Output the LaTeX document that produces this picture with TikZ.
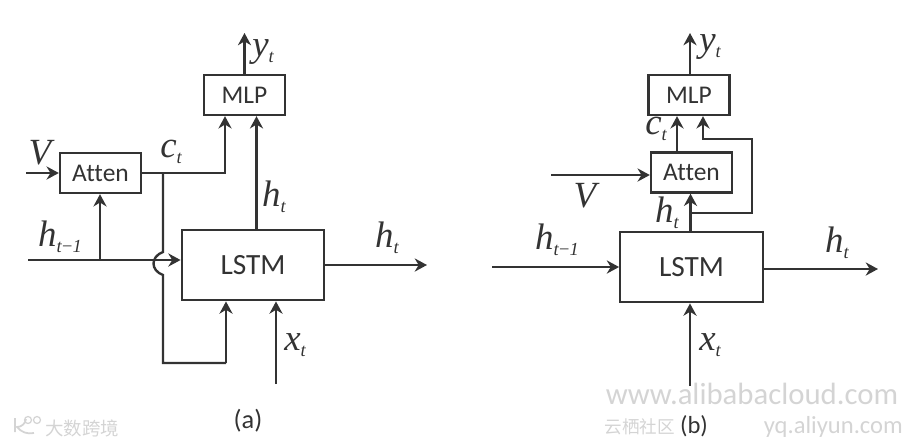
\documentclass[tikz,border=0pt]{standalone}
\usepackage{fontspec}
\setmainfont[Ligatures=NoCommon]{Carlito}
\newfontfamily\cjkfont{Noto Sans CJK SC}
\newfontfamily\symfont{Liberation Serif}
\usepackage{tikz}
\usetikzlibrary{arrows.meta,positioning}
\definecolor{ink}{HTML}{333333}
\definecolor{wmark}{HTML}{D4D4D4}
\newcommand{\lab}[2]{{\fontsize{21}{23}\symfont\itshape #1\raisebox{-3.5pt}{\fontsize{10.5}{11}\selectfont #2}}}

\begin{document}
\begin{tikzpicture}[x=0.02cm,y=-0.02cm,
ink,line width=1.35pt,
box/.style={draw=ink,align=center,inner sep=0pt,font=\fontsize{14.5}{16}\selectfont},
smallbox/.style={box,minimum width=1.62cm,minimum height=0.8cm},
lstmbox/.style={box,minimum width=2.85cm,minimum height=1.41cm,font=\fontsize{16.7}{18}\selectfont},
arr/.style={-{Stealth[length=7pt,width=7.5pt]}},
sym/.style={inner sep=0pt},
wm/.style={inner sep=0pt,text=wmark}]
\useasboundingbox (0,0) rectangle (915,444);
% left picture
\node[smallbox] (mlpa) at (244.5,95) {MLP};
\node[smallbox] (attena) at (100.5,173) {Atten};
\node[lstmbox] (lstma) at (253,265) {LSTM};
\coordinate (ya) at (244.5,33);
\coordinate (va) at (26,173);
\coordinate (prevha) at (28,260);
\coordinate (tapa) at (100,260);
\coordinate (outa) at (427,265);
\coordinate (xa) at (276,384);
\coordinate (ca) at (163,173);
\coordinate (cua) at (225,173);
\coordinate (huma) at (256.5,229);
\coordinate (bumpt) at (163,252);
\coordinate (bumpb) at (163,275);
\coordinate (loopl) at (163,363);
\coordinate (loopr) at (226,363);
\draw[arr] (mlpa.north -| ya) -- (ya);
\draw[arr] (va) -- (attena.west);
\draw[arr] (attena.east) -- (cua) -- (cua |- mlpa.south);
\draw[arr] (huma) -- (huma |- mlpa.south);
\draw[arr] (prevha) -- (prevha -| lstma.west);
\draw[arr] (tapa) -- (tapa |- attena.south);
\draw (ca) -- (bumpt) to[bend right=70,looseness=1.5] (bumpb) -- (loopl) -- (loopr);
\draw[arr] (loopr) -- (loopr |- lstma.south);
\draw[arr] (xa) -- (xa |- lstma.south);
\draw[arr] (outa -| lstma.east) -- (outa);
\node[sym] (vlaba) at (40,155) {\lab{V}{}};
\node[sym] (clab) at (171,152) {\lab{c}{t}};
\node[sym] (ylaba) at (263,52) {\lab{y}{t}};
\node[sym] (hlaba) at (274,197) {\lab{h}{t}};
\node[sym] (plaba) at (60,237) {\lab{h}{t\textup{−}1}};
\node[sym] (rlaba) at (387,238) {\lab{h}{t}};
\node[sym] (xlaba) at (295,345) {\lab{x}{t}};
\node[inner sep=0pt,font=\fontsize{15}{16}\selectfont] (capa) at (248,421) {(a)};
% right picture
\node[smallbox] (mlpb) at (689,95) {MLP};
\node[smallbox] (attenb) at (691.5,172.5) {Atten};
\node[lstmbox] (lstmb) at (691.5,267) {LSTM};
\coordinate (yb) at (690,33);
\coordinate (vb) at (551,175);
\coordinate (prevhb) at (492,267);
\coordinate (outb) at (878,269);
\coordinate (xb) at (690,386);
\coordinate (cb) at (677,152);
\coordinate (hb) at (690.5,232);
\coordinate (tapb) at (690.5,213);
\coordinate (loopa) at (752,213);
\coordinate (loopc) at (752,139);
\coordinate (loopd) at (703,139);
\draw[arr] (mlpb.north -| yb) -- (yb);
\draw[arr] (cb) -- (cb |- mlpb.south);
\draw[arr] (hb) -- (hb |- attenb.south);
\draw[arr] (tapb) -- (loopa) -- (loopc) -- (loopd) -- (loopd |- mlpb.south);
\draw[arr] (vb) -- (vb -| attenb.west);
\draw[arr] (prevhb) -- (prevhb -| lstmb.west);
\draw[arr] (outb -| lstmb.east) -- (outb);
\draw[arr] (xb) -- (xb |- lstmb.south);
\node[sym] (ylabb) at (710,47) {\lab{y}{t}};
\node[sym] (clabb) at (656,129) {\lab{c}{t}};
\node[sym] (vlabb) at (585,198) {\lab{V}{}};
\node[sym] (hlabb) at (667,213) {\lab{h}{t}};
\node[sym] (plabb) at (557,240) {\lab{h}{t\textup{−}1}};
\node[sym] (rlabb) at (837,243) {\lab{h}{t}};
\node[sym] (xlabb) at (710,345) {\lab{x}{t}};
\node[inner sep=0pt,font=\fontsize{14}{15}\selectfont] (capb) at (694,426) {(b)};
% marks printed over the picture
\draw[wmark,line width=1pt] (15,418) -- (15,432) (26,419) to[bend left=40] (17,427) to[bend right=30] (34,433);
\draw[wmark,line width=.7pt] (28,420) circle (3.5) (37,420) circle (3.5);
\node[wm,font=\fontsize{10.5}{12}\cjkfont] (wmleft) at (82,428) {大数跨境};
\node[wm,font=\fontsize{17.5}{18}\selectfont,anchor=base] (wmweb) at (752,404) {www.alibabacloud.com};
\node[wm,font=\fontsize{10}{11}\cjkfont,anchor=east] (wmcjk) at (676,427) {云栖社区};
\node[wm,font=\fontsize{14}{15}\selectfont,anchor=east] (wmyq) at (904,427) {yq.aliyun.com};
\end{tikzpicture}
\end{document}
